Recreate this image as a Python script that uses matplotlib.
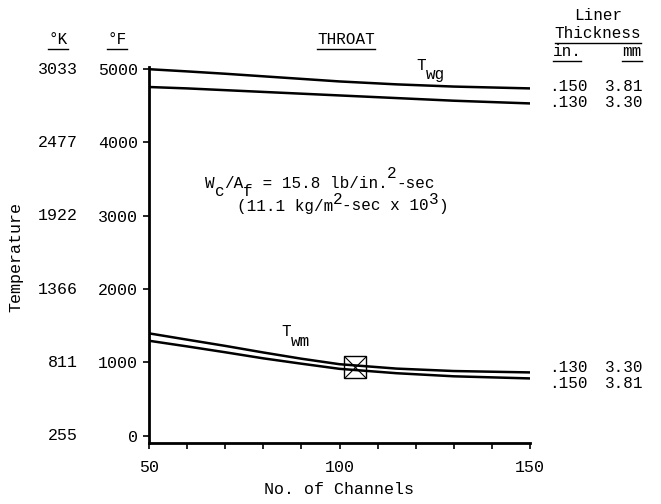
import matplotlib
matplotlib.use("Agg")
import matplotlib.pyplot as plt
import matplotlib.transforms as mtransforms
from matplotlib.lines import Line2D
from matplotlib.ticker import MultipleLocator

plt.rcParams['font.family'] = ['Liberation Mono', 'DejaVu Sans']

# values (deg F)
channels = [50, 60, 70, 80, 90, 100, 115, 130, 150]
twg_150 = [5000, 4970, 4938, 4903, 4868, 4833, 4793, 4763, 4738]
twg_130 = [4757, 4738, 4714, 4690, 4666, 4642, 4606, 4570, 4533]
twm_130 = [1396, 1310, 1225, 1135, 1050, 975, 915, 882, 863]
twm_150 = [1295, 1218, 1138, 1055, 982, 912, 852, 810, 781]
design_x = [104]
design_y = [936]

f_ticks = [0, 1000, 2000, 3000, 4000, 5000]
k_labels = ["255", "811", "1366", "1922", "2477", "3033"]
x_ticks = [50, 100, 150]

top_rows = [(".150", "3.81"), (".130", "3.30")]
bottom_rows = [(".130", "3.30"), (".150", "3.81")]

W, H = 661, 504
FS = 11.5
fig = plt.figure(figsize=(W / 100, H / 100), dpi=100)
ax = fig.add_axes([149 / W, 1 - 443 / H, 381 / W, (443 - 67) / H])


def fx(px):
    return px / W


def fy(py):
    return 1 - py / H


def typed(x_px, y_px, pieces, fs=FS):
    # typewriter style text: each piece is shifted up/down by dy points
    adv = 0
    for s, dy in pieces:
        tr = mtransforms.offset_copy(fig.transFigure, fig=fig, x=adv, y=dy, units="points")
        fig.text(fx(x_px), fy(y_px), s, transform=tr, ha="left", va="center", fontsize=fs)
        adv += 0.6 * fs * len(s)


lw = 1.8
ax.plot(channels, twg_150, color="black", lw=lw)
ax.plot(channels, twg_130, color="black", lw=lw)
ax.plot(channels, twm_130, color="black", lw=lw)
ax.plot(channels, twm_150, color="black", lw=lw)
ax.plot(design_x, design_y, marker="s", ms=16, mfc="none", mec="black", mew=1.0, ls="none")
ax.plot(design_x, design_y, marker="x", ms=16, mec="black", mew=0.8, ls="none")

ax.set_xlim(50, 150)
ax.set_ylim(-100, 5030)
for s in ["top", "right"]:
    ax.spines[s].set_visible(False)
for s in ["left", "bottom"]:
    ax.spines[s].set_linewidth(2)

ax.set_xticks(x_ticks)
ax.xaxis.set_minor_locator(MultipleLocator(10))
ax.set_yticks(f_ticks)
ax.tick_params(which="both", direction="out", length=4, width=1.2, labelsize=12, pad=4)
ax.tick_params(axis="x", pad=8)

# deg K column
k_trans = mtransforms.blended_transform_factory(fig.transFigure, ax.transData)
for v, lab in zip(f_ticks, k_labels):
    ax.text(fx(78), v, lab, transform=k_trans, ha="right", va="center", fontsize=12)

ax.set_xlabel("No. of Channels", fontsize=12, labelpad=5)
fig.text(fx(16), fy(257), "Temperature", rotation=90, ha="center", va="center", fontsize=12)

under = []
under.append(fig.text(fx(58), fy(40), "°K", ha="center", va="center", fontsize=FS))
under.append(fig.text(fx(117), fy(40), "°F", ha="center", va="center", fontsize=FS))
under.append(fig.text(fx(346), fy(40), "THROAT", ha="center", va="center", fontsize=FS))
fig.text(fx(598), fy(15), "Liner", ha="center", va="center", fontsize=FS)
under.append(fig.text(fx(598), fy(33), "Thickness", ha="center", va="center", fontsize=FS))
under.append(fig.text(fx(567), fy(51), "in.", ha="center", va="center", fontsize=FS))
under.append(fig.text(fx(632), fy(51), "mm", ha="center", va="center", fontsize=FS))

for i, (a, b) in enumerate(top_rows):
    y = 86 + i * 17
    fig.text(fx(549), fy(y), a, ha="left", va="center", fontsize=FS)
    fig.text(fx(643), fy(y), b, ha="right", va="center", fontsize=FS)
for i, (a, b) in enumerate(bottom_rows):
    y = 368 + i * 16
    fig.text(fx(549), fy(y), a, ha="left", va="center", fontsize=FS)
    fig.text(fx(643), fy(y), b, ha="right", va="center", fontsize=FS)

typed(416, 65, [("T", 0), ("wg", -7)])
typed(281, 332, [("T", 0), ("wm", -7)])
typed(205, 183, [("W", 0), ("c", -6), ("/A", 0), ("f", -6), (" = 15.8 lb/in.", 0), ("2", 7), ("-sec", 0)])
typed(237, 206, [("(11.1 kg/m", 0), ("2", 5), ("-sec x 10", 0), ("3", 5), (")", 0)])

fig.canvas.draw()
inv = fig.transFigure.inverted()
for t in under:
    bb = t.get_window_extent().transformed(inv)
    yl = bb.y0 - 2 / H
    fig.add_artist(Line2D([bb.x0, bb.x1], [yl, yl], transform=fig.transFigure, color="black", lw=1))

fig.savefig("out.png", dpi=100)
